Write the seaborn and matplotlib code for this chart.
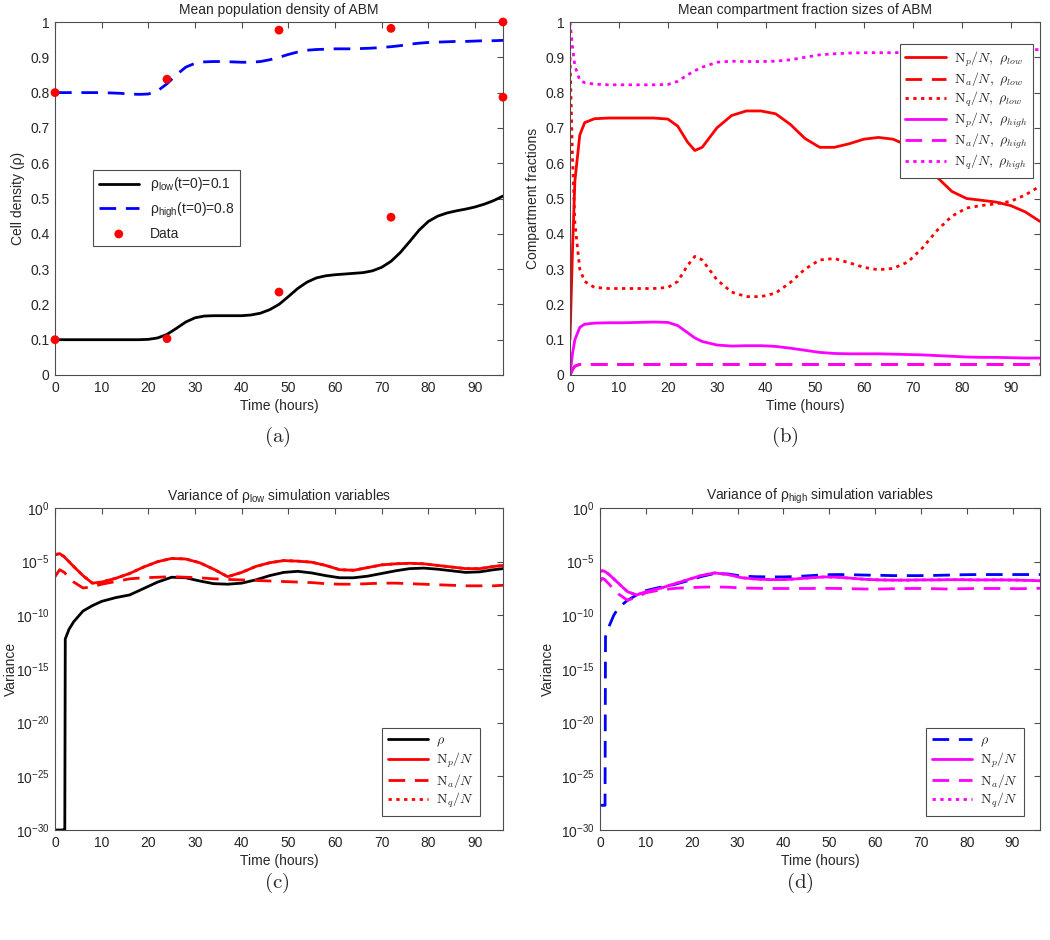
import matplotlib
matplotlib.use('Agg')
import matplotlib.pyplot as plt
import numpy as np
import seaborn as sns
from matplotlib.font_manager import FontProperties
from matplotlib.ticker import FixedLocator, FuncFormatter, LogFormatterSciNotation, NullLocator

# ---- (a) mean population density ----
t_a = [0, 2, 4, 6, 8, 10, 12, 14, 16, 18, 20, 22, 24, 26, 28, 30, 32, 34, 36, 38, 40,
       42, 44, 46, 48, 50, 52, 54, 56, 58, 60, 62, 64, 66, 68, 70, 72, 74, 76, 78, 80,
       82, 84, 86, 88, 90, 92, 94, 96]
rho_low = [0.1, 0.1, 0.1, 0.1, 0.1, 0.1, 0.1, 0.1, 0.1, 0.1, 0.101, 0.105, 0.115, 0.132,
           0.15, 0.162, 0.167, 0.168, 0.168, 0.168, 0.168, 0.17, 0.175, 0.185, 0.2, 0.222,
           0.245, 0.263, 0.275, 0.281, 0.284, 0.286, 0.288, 0.29, 0.295, 0.305, 0.322,
           0.347, 0.378, 0.41, 0.435, 0.45, 0.459, 0.465, 0.47, 0.476, 0.484, 0.494, 0.507]
rho_high = [0.8, 0.8, 0.8, 0.8, 0.8, 0.8, 0.799, 0.798, 0.796, 0.795, 0.796, 0.805, 0.825,
            0.85, 0.872, 0.883, 0.887, 0.888, 0.888, 0.887, 0.886, 0.886, 0.888, 0.893,
            0.9, 0.908, 0.915, 0.92, 0.922, 0.923, 0.924, 0.924, 0.924, 0.925, 0.926,
            0.928, 0.93, 0.933, 0.937, 0.94, 0.942, 0.943, 0.944, 0.945, 0.945, 0.946,
            0.947, 0.947, 0.948]
data_t = [0, 0, 24, 24, 48, 48, 72, 72, 96, 96]
data_rho = [0.1, 0.8, 0.103, 0.838, 0.235, 0.977, 0.447, 0.982, 1.0, 0.787]

# ---- (b) mean compartment fractions ----
t_b = [0, 0.5, 1, 2, 3, 5, 8, 11, 14, 17, 20, 22, 24, 25.5, 27, 30, 33, 36, 39, 42, 45,
       48, 51, 54, 57, 60, 63, 66, 69, 72, 75, 78, 81, 84, 87, 90, 93, 96]
np_low = [0.1, 0.35, 0.55, 0.68, 0.715, 0.726, 0.728, 0.728, 0.728, 0.728, 0.725, 0.705,
          0.66, 0.636, 0.645, 0.7, 0.735, 0.748, 0.748, 0.74, 0.71, 0.67, 0.645, 0.645,
          0.655, 0.668, 0.673, 0.668, 0.65, 0.61, 0.56, 0.52, 0.5, 0.495, 0.49, 0.48,
          0.462, 0.435]
na_low = [0.0, 0.015, 0.025, 0.03, 0.03, 0.03, 0.03, 0.03, 0.03, 0.03, 0.03, 0.03, 0.03,
          0.03, 0.03, 0.03, 0.03, 0.03, 0.03, 0.03, 0.03, 0.03, 0.03, 0.03, 0.03, 0.03,
          0.03, 0.03, 0.03, 0.03, 0.03, 0.03, 0.03, 0.03, 0.03, 0.03, 0.03, 0.03]
nq_low = [0.9, 0.62, 0.43, 0.3, 0.265, 0.248, 0.245, 0.245, 0.245, 0.245, 0.248, 0.265,
          0.31, 0.336, 0.326, 0.27, 0.235, 0.222, 0.222, 0.232, 0.262, 0.3, 0.326, 0.33,
          0.318, 0.305, 0.298, 0.302, 0.32, 0.36, 0.41, 0.45, 0.473, 0.48, 0.485, 0.492,
          0.51, 0.535]
np_high = [0.0, 0.06, 0.1, 0.135, 0.144, 0.147, 0.148, 0.148, 0.149, 0.15, 0.149, 0.14,
           0.12, 0.105, 0.095, 0.085, 0.082, 0.083, 0.083, 0.081, 0.076, 0.07, 0.064,
           0.061, 0.06, 0.06, 0.06, 0.059, 0.058, 0.057, 0.055, 0.053, 0.051, 0.05, 0.05,
           0.049, 0.048, 0.048]
na_high = [0.0, 0.015, 0.025, 0.03, 0.03, 0.03, 0.03, 0.03, 0.03, 0.03, 0.03, 0.03, 0.03,
           0.03, 0.03, 0.03, 0.03, 0.03, 0.03, 0.03, 0.03, 0.03, 0.03, 0.03, 0.03, 0.03,
           0.03, 0.03, 0.03, 0.03, 0.03, 0.03, 0.03, 0.03, 0.03, 0.03, 0.03, 0.03]
nq_high = [1.0, 0.93, 0.875, 0.835, 0.828, 0.824, 0.822, 0.822, 0.822, 0.822, 0.823, 0.832,
           0.85, 0.862, 0.872, 0.886, 0.889, 0.888, 0.888, 0.889, 0.893, 0.9, 0.907, 0.91,
           0.912, 0.913, 0.913, 0.913, 0.914, 0.915, 0.917, 0.918, 0.919, 0.92, 0.92,
           0.921, 0.921, 0.922]

# ---- (c) variance, rho_low run (log10 of variance) ----
t_c = [0, 1, 2, 2.1, 2.2, 3, 4, 6, 8, 10, 13, 16, 19, 22, 25, 28, 31, 34, 37, 40, 43, 46,
       49, 52, 55, 58, 61, 64, 67, 70, 73, 76, 79, 82, 85, 88, 91, 94, 96]
lvar_rho_low = [-30, -30, -30, -30, -12.2, -11.3, -10.6, -9.6, -9.1, -8.7, -8.35, -8.1,
                -7.5, -6.9, -6.45, -6.5, -6.8, -7.05, -7.1, -7.0, -6.7, -6.3, -6.0, -5.9,
                -6.05, -6.3, -6.5, -6.5, -6.35, -6.1, -5.85, -5.65, -5.6, -5.7, -5.85,
                -6.0, -5.95, -5.75, -5.65]
lvar_np_low = [-4.35, -4.25, -4.55, -4.6, -4.65, -5.0, -5.45, -6.3, -7.0, -6.9, -6.55,
               -6.1, -5.5, -5.0, -4.7, -4.75, -5.1, -5.7, -6.4, -6.0, -5.45, -5.1, -4.9,
               -4.95, -5.05, -5.35, -5.75, -5.8, -5.55, -5.3, -5.2, -5.15, -5.2, -5.35,
               -5.5, -5.65, -5.65, -5.45, -5.35]
lvar_na_low = [-6.4, -5.75, -6.0, -6.05, -6.1, -6.5, -6.9, -7.45, -7.35, -7.1, -6.85,
               -6.6, -6.5, -6.45, -6.4, -6.45, -6.5, -6.6, -6.65, -6.7, -6.75, -6.8,
               -6.85, -6.9, -6.95, -7.05, -7.1, -7.1, -7.05, -7.0, -7.0, -7.05, -7.1,
               -7.15, -7.2, -7.25, -7.25, -7.25, -7.2]
# Nq/N variance lies on top of the Np/N variance
lvar_nq_low = list(lvar_np_low)

# ---- (d) variance, rho_high run (log10 of variance) ----
t_d = [0, 0.5, 1, 1.1, 1.2, 2, 3, 4, 6, 8, 10, 13, 16, 19, 22, 25, 28, 31, 34, 37, 40,
       43, 46, 49, 52, 55, 58, 61, 64, 67, 70, 73, 76, 79, 82, 85, 88, 91, 94, 96]
lvar_rho_high = [-27.7, -27.7, -27.7, -27.7, -12.0, -11.0, -10.0, -9.3, -8.6, -8.1, -7.7,
                 -7.4, -7.15, -6.8, -6.4, -6.1, -6.15, -6.35, -6.4, -6.42, -6.42, -6.38,
                 -6.3, -6.22, -6.2, -6.22, -6.25, -6.27, -6.3, -6.3, -6.3, -6.28, -6.25,
                 -6.22, -6.2, -6.2, -6.2, -6.2, -6.2, -6.2]
lvar_np_high = [-5.9, -5.85, -5.9, -5.92, -5.95, -6.2, -6.6, -7.0, -7.8, -8.1, -7.8, -7.5,
                -7.1, -6.7, -6.3, -6.05, -6.2, -6.5, -6.62, -6.67, -6.67, -6.6, -6.5,
                -6.42, -6.45, -6.55, -6.65, -6.7, -6.72, -6.72, -6.7, -6.7, -6.68, -6.68,
                -6.7, -6.7, -6.7, -6.72, -6.75, -6.78]
lvar_na_high = [-6.85, -6.55, -6.65, -6.7, -6.75, -7.1, -7.6, -8.0, -8.6, -8.3, -7.9,
                -7.65, -7.5, -7.42, -7.38, -7.35, -7.38, -7.45, -7.48, -7.5, -7.5, -7.5,
                -7.5, -7.48, -7.5, -7.52, -7.55, -7.55, -7.52, -7.5, -7.5, -7.52, -7.55,
                -7.52, -7.5, -7.5, -7.5, -7.52, -7.5, -7.48]
lvar_nq_high = list(lvar_np_high)

x_ticks = [0, 10, 20, 30, 40, 50, 60, 70, 80, 90]

sns.set_theme(style='white')
plt.rcParams['font.family'] = ['Liberation Sans', 'DejaVu Sans']
plt.rcParams['mathtext.fontset'] = 'custom'
plt.rcParams['mathtext.rm'] = 'Liberation Sans'
plt.rcParams['mathtext.it'] = 'Liberation Sans:italic'
plt.rcParams['mathtext.bf'] = 'Liberation Sans:bold'

FS = 10
DASH = (0, (6, 3.5))
DOT = (0, (1.2, 1.6))
LW = 2.0
tex_prop = FontProperties(family='DejaVu Serif', size=10, math_fontfamily='cm')

fig = plt.figure(figsize=(10.5, 9.4), dpi=100)
W, H = 1050.0, 940.0
ax_a = fig.add_axes([55 / W, 1 - 375 / H, 448 / W, 353 / H])
ax_b = fig.add_axes([570 / W, 1 - 375 / H, 470 / W, 353 / H])
ax_c = fig.add_axes([55 / W, 1 - 830 / H, 448 / W, 322 / H])
ax_d = fig.add_axes([600 / W, 1 - 830 / H, 440 / W, 322 / H])


def style_axes(ax):
    ax.set_xlim(0, 96)
    ax.set_xticks(x_ticks)
    ax.tick_params(direction='in', top=True, right=True, labelsize=FS, length=4,
                   width=0.8, color='0.3', pad=4)
    for s in ax.spines.values():
        s.set_color('0.3')
        s.set_linewidth(0.8)
    ax.set_xlabel('Time (hours)', fontsize=FS, labelpad=3)


def lin_axes(ax):
    ax.set_ylim(0, 1)
    ax.set_yticks(np.arange(0, 1.01, 0.1))
    ax.yaxis.set_major_formatter(FuncFormatter(lambda v, p: '%g' % round(v, 2)))


def log_axes(ax):
    ax.set_yscale('log')
    ax.set_ylim(1e-30, 1)
    ax.yaxis.set_major_locator(FixedLocator([1e-30, 1e-25, 1e-20, 1e-15, 1e-10, 1e-5, 1]))
    ax.yaxis.set_major_formatter(LogFormatterSciNotation())
    ax.yaxis.set_minor_locator(NullLocator())


def legend(ax, **kw):
    lg = ax.legend(fancybox=False, framealpha=1, edgecolor='0.3', handlelength=2.9,
                   borderpad=0.4, labelspacing=0.12, handletextpad=0.6,
                   borderaxespad=0, **kw)
    lg.get_frame().set_linewidth(0.8)
    return lg


# (a)
sns.lineplot(x=t_a, y=rho_low, ax=ax_a, color='black', lw=LW,
             label=r'ρ$_{\rm low}$(t=0)=0.1')
sns.lineplot(x=t_a, y=rho_high, ax=ax_a, color='blue', lw=LW, linestyle=DASH,
             label=r'ρ$_{\rm high}$(t=0)=0.8')
sns.scatterplot(x=data_t, y=data_rho, ax=ax_a, color='red', s=40, edgecolor='none',
                clip_on=False, zorder=5, label='Data')
style_axes(ax_a)
lin_axes(ax_a)
ax_a.set_ylabel('Cell density (ρ)', fontsize=FS)
ax_a.set_title('Mean population density of ABM', fontsize=FS, pad=6)
lg = ax_a.legend(fancybox=False, framealpha=1, edgecolor='0.3', handlelength=2.9,
                 borderaxespad=0, loc='upper left', bbox_to_anchor=(0.085, 0.581),
                 fontsize=FS)
lg.get_frame().set_linewidth(0.8)

# (b)
sns.lineplot(x=t_b, y=np_low, ax=ax_b, color='red', lw=LW,
             label=r'$\mathrm{N}_p/N,\ \rho_{low}$')
sns.lineplot(x=t_b, y=na_low, ax=ax_b, color='red', lw=LW, linestyle=DASH, zorder=1.5,
             label=r'$\mathrm{N}_a/N,\ \rho_{low}$')
sns.lineplot(x=t_b, y=nq_low, ax=ax_b, color='red', lw=LW, linestyle=DOT,
             label=r'$\mathrm{N}_q/N,\ \rho_{low}$')
sns.lineplot(x=t_b, y=np_high, ax=ax_b, color='magenta', lw=LW,
             label=r'$\mathrm{N}_p/N,\ \rho_{high}$')
sns.lineplot(x=t_b, y=na_high, ax=ax_b, color='magenta', lw=LW, linestyle=DASH,
             label=r'$\mathrm{N}_a/N,\ \rho_{high}$')
sns.lineplot(x=t_b, y=nq_high, ax=ax_b, color='magenta', lw=LW, linestyle=DOT,
             label=r'$\mathrm{N}_q/N,\ \rho_{high}$')
style_axes(ax_b)
lin_axes(ax_b)
ax_b.set_ylabel('Compartment fractions', fontsize=FS)
ax_b.set_title('Mean compartment fraction sizes of ABM', fontsize=FS, pad=6)
legend(ax_b, loc='upper right', bbox_to_anchor=(0.985, 0.938), prop=tex_prop)

# (c)
pw = lambda v: np.power(10.0, np.array(v))
sns.lineplot(x=t_c, y=pw(lvar_rho_low), ax=ax_c, color='black', lw=LW, label=r'$\rho$')
sns.lineplot(x=t_c, y=pw(lvar_np_low), ax=ax_c, color='red', lw=LW,
             label=r'$\mathrm{N}_p/N$')
sns.lineplot(x=t_c, y=pw(lvar_na_low), ax=ax_c, color='red', lw=LW, linestyle=DASH,
             label=r'$\mathrm{N}_a/N$')
sns.lineplot(x=t_c, y=pw(lvar_nq_low), ax=ax_c, color='red', lw=LW, linestyle=DOT,
             zorder=1.5, label=r'$\mathrm{N}_q/N$')
style_axes(ax_c)
log_axes(ax_c)
ax_c.set_ylabel('Variance', fontsize=FS)
ax_c.yaxis.set_label_coords(-37 / 448, 0.5)
ax_c.set_title(r'Variance of ρ$_{\rm low}$ simulation variables', fontsize=FS, pad=6)
legend(ax_c, loc='lower right', bbox_to_anchor=(0.949, 0.0435), prop=tex_prop)

# (d)
sns.lineplot(x=t_d, y=pw(lvar_rho_high), ax=ax_d, color='blue', lw=LW, linestyle=DASH,
             label=r'$\rho$')
sns.lineplot(x=t_d, y=pw(lvar_np_high), ax=ax_d, color='magenta', lw=LW,
             label=r'$\mathrm{N}_p/N$')
sns.lineplot(x=t_d, y=pw(lvar_na_high), ax=ax_d, color='magenta', lw=LW, linestyle=DASH,
             label=r'$\mathrm{N}_a/N$')
sns.lineplot(x=t_d, y=pw(lvar_nq_high), ax=ax_d, color='magenta', lw=LW, linestyle=DOT,
             zorder=1.5, label=r'$\mathrm{N}_q/N$')
style_axes(ax_d)
log_axes(ax_d)
ax_d.set_ylabel('Variance', fontsize=FS)
ax_d.set_title(r'Variance of ρ$_{\rm high}$ simulation variables', fontsize=FS, pad=6)
legend(ax_d, loc='lower right', bbox_to_anchor=(0.9636, 0.0435), prop=tex_prop)

# sub-figure captions
for x, y, s in [(277, 437, '(a)'), (785, 437, '(b)'), (277, 883, '(c)'), (800, 883, '(d)')]:
    fig.text(x / W, 1 - y / H, r'$\mathrm{' + s + '}$', fontsize=15, ha='center',
             va='center', math_fontfamily='cm')

fig.savefig('out.png', dpi=100, facecolor='white')
